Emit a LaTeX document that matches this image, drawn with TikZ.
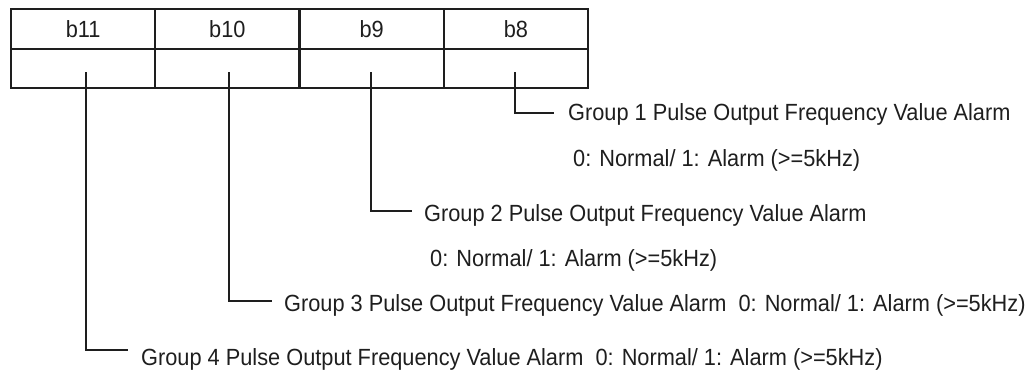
\documentclass[tikz,border=0pt]{standalone}
\usepackage{fontspec}
\setmainfont[FakeStretch=0.93]{Liberation Sans}
\definecolor{ink}{HTML}{1E1E1E}
\begin{document}
\begin{tikzpicture}[x=1pt,y=-1pt,
  cell/.style={draw=ink,line width=2pt,minimum width=144.25pt,inner sep=0pt,font=\fontsize{23.4}{26}\selectfont,text=ink},
  hcell/.style={cell,minimum height=40pt},
  bcell/.style={cell,minimum height=39pt},
  lbl/.style={anchor=base west,inner sep=0pt,font=\fontsize{23.4}{26}\selectfont,text=ink},
  conn/.style={draw=ink,line width=2pt}]
\useasboundingbox (0,0) rectangle (1032,372);
% header row
\node[hcell] (h11) at (83.1,29) {b11};
\node[hcell] (h10) at (227.4,29) {b10};
\node[hcell] (h9)  at (371.6,29) {b9};
\node[hcell] (h8)  at (515.9,29) {b8};
% value row
\node[bcell] (v11) at (83.1,68.5) {};
\node[bcell] (v10) at (227.4,68.5) {};
\node[bcell] (v9)  at (371.6,68.5) {};
\node[bcell] (v8)  at (515.9,68.5) {};
% labels
\node[lbl] (g1)  at (568,120.5) {Group 1 Pulse Output Frequency Value Alarm};
\node[lbl] (g1b) at (573,166.5) {0: Normal/ 1: Alarm (>=5kHz)};
\node[lbl] (g2)  at (424,221) {Group 2 Pulse Output Frequency Value Alarm};
\node[lbl] (g2b) at (430,266) {0: Normal/ 1: Alarm (>=5kHz)};
\node[lbl] (g3)  at (284,311) {Group 3 Pulse Output Frequency Value Alarm\ \ 0: Normal/ 1: Alarm (>=5kHz)};
\node[lbl] (g4)  at (141,365) {Group 4 Pulse Output Frequency Value Alarm\ \ 0: Normal/ 1: Alarm (>=5kHz)};
% connector end points
\coordinate (s8)  at (515,72);
\coordinate (s9)  at (371,72);
\coordinate (s10) at (229,72);
\coordinate (s11) at (86,72);
\coordinate (e8)  at (554,113);
\coordinate (e9)  at (412,211);
\coordinate (e10) at (272,301);
\coordinate (e11) at (128,350);
\draw[conn] (s8)  |- (e8);
\draw[conn] (s9)  |- (e9);
\draw[conn] (s10) |- (e10);
\draw[conn] (s11) |- (e11);
\end{tikzpicture}
\end{document}
